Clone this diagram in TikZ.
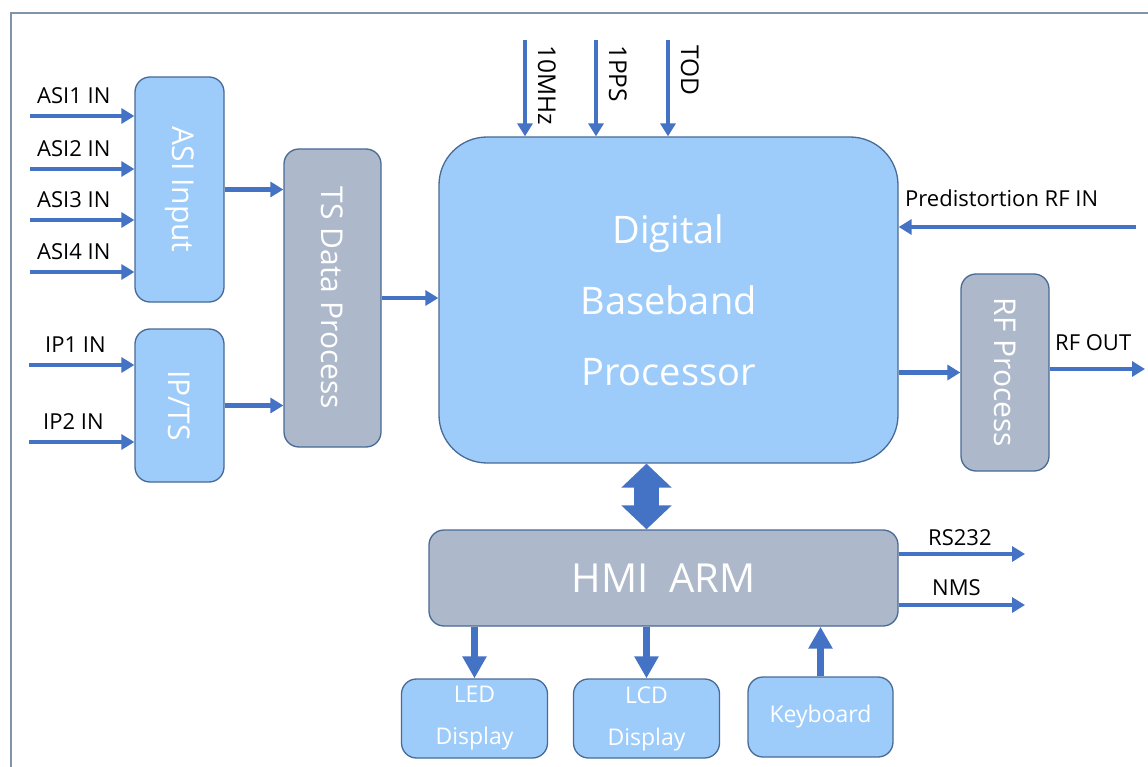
\documentclass[tikz,border=0pt]{standalone}
\usepackage{fontspec}
\setmainfont{Open Sans}
\usetikzlibrary{arrows.meta,positioning,calc}
\definecolor{lineblue}{RGB}{68,114,196}
\definecolor{boxblue}{RGB}{157,204,250}
\definecolor{boxgray}{RGB}{173,185,202}
\definecolor{edgeblue}{RGB}{72,106,150}
\definecolor{framegray}{RGB}{128,150,168}

\begin{document}
\begin{tikzpicture}[
    x=1pt,y=-1pt,
    inbox/.style={draw=edgeblue,line width=1.3pt,fill=boxblue,rounded corners=15pt,inner sep=0pt},
    procbox/.style={inbox,fill=boxgray},
    boxtext/.style={text=white,font=\fontsize{30}{34}\selectfont,inner sep=0pt},
    sig/.style={font=\fontsize{22}{26}\selectfont,inner sep=0pt},
    flow/.style={-{Triangle[length=13pt,width=15pt]},line width=4.5pt,color=lineblue},
    bus/.style={{Triangle[length=24pt,width=49pt]}-{Triangle[length=24pt,width=49pt]},line width=25pt,color=lineblue},
    tap/.style={-{Triangle[length=22pt,width=23pt]},line width=7pt,color=lineblue}
  ]
    \useasboundingbox (0,0) rectangle (1148,767);
    \draw[framegray,line width=2pt] (11,767) -- (11,13) -- (1148,13);

    % input stage
    \node[inbox,minimum width=89pt,minimum height=225pt] (asi) at (179.5,189.5) {};
    \node[boxtext,rotate=-90] at (asi) {ASI Input};
    \node[inbox,minimum width=89pt,minimum height=153pt] (ipts) at (179.5,405.5) {};
    \node[boxtext,rotate=-90] at (ipts) {IP/TS};
    \node[procbox,minimum width=97pt,minimum height=298pt] (ts) at (332.5,298) {};
    \node[boxtext,rotate=-90] at (ts) {TS Data Process};

    % core and RF
    \node[inbox,rounded corners=48pt,minimum width=459pt,minimum height=326pt,
      align=center,text=white,font=\fontsize{38}{71}\selectfont] (dbp) at (668.5,300)
      {Digital\\Baseband\\Processor};
    \node[procbox,minimum width=88pt,minimum height=197pt] (rf) at (1005,372.5) {};
    \node[boxtext,rotate=-90] at (rf) {RF Process};

    % control side
    \node[procbox,minimum width=469pt,minimum height=96pt,text=white,
      font=\fontsize{40}{44}\selectfont] (hmi) at (663.5,578) {HMI\ \ ARM};
    \node[inbox,minimum width=146pt,minimum height=79pt,align=center,text=white,
      font=\fontsize{23}{42}\selectfont] (led) at (474.5,718.5) {LED\\Display};
    \node[inbox,minimum width=146pt,minimum height=79pt,align=center,text=white,
      font=\fontsize{23}{42}\selectfont] (lcd) at (646.5,718.5) {LCD\\Display};
    \node[inbox,minimum width=145pt,minimum height=80pt,text=white,
      font=\fontsize{23}{28}\selectfont] (kbd) at (820.5,717) {Keyboard};

    \foreach \i/\y in {1/116,2/169,3/220,4/272}{
      \coordinate (asi\i) at (30,\y);
      \draw[flow] (asi\i) -- (asi\i -| asi.west);
      \node[sig,anchor=base west] at (37,\y-12) {ASI\i{} IN};
    }
    \foreach \i/\y/\lx in {1/365/45,2/442/43}{
      \coordinate (ip\i) at (29,\y);
      \draw[flow] (ip\i) -- (ip\i -| ipts.west);
      \node[sig,anchor=base west] at (\lx,\y-13) {IP\i{} IN};
    }
    \draw[flow] (asi.east) -- (asi.east -| ts.west);
    \draw[flow] (ipts.east) -- (ipts.east -| ts.west);
    \draw[flow] (ts.east) -- (ts.east -| dbp.west);

    % reference inputs from the top
    \foreach \x/\name/\t in {525/tenmhz/10MHz,596/pps/1PPS,668/tod/TOD}{
      \coordinate (\name) at (\x,40);
      \draw[flow] (\name) -- (\name |- dbp.north);
      \node[sig,font=\fontsize{24.5}{28}\selectfont,rotate=-90,anchor=base west] at (\x+13,45) {\t};
    }

    \coordinate (pdin) at (1136,227);
    \draw[flow] (pdin) -- (pdin -| dbp.east);
    \node[sig,anchor=base west] at (905,207) {Predistortion RF IN};

    \draw[flow] (dbp.east |- rf.west) -- (rf.west);
    \coordinate (rfout) at (1145,369);
    \draw[flow] (rf.east |- rfout) -- (rfout);
    \node[sig,anchor=base west] at (1055,350) {RF OUT};

    \draw[bus] (dbp.south -| lcd) -- (hmi.north -| lcd);
    \draw[tap] (hmi.south -| led) -- (led.north);
    \draw[tap] (hmi.south -| lcd) -- (lcd.north);
    \draw[tap] (kbd.north) -- (kbd.north |- hmi.south);

    \coordinate (rs) at (1025,554);
    \coordinate (nms) at (1025,605);
    \draw[flow] (hmi.east |- rs) -- (rs);
    \draw[flow] (hmi.east |- nms) -- (nms);
    \node[sig,anchor=base west] at (928,545) {RS232};
    \node[sig,anchor=base west] at (932,595) {NMS};
  \end{tikzpicture}
\end{document}
